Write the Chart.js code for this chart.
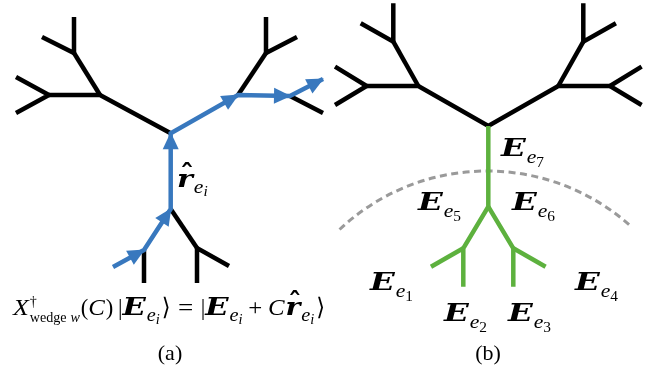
<!DOCTYPE html>
<html><head><meta charset="utf-8">
<script src="https://cdn.jsdelivr.net/npm/chart.js@4"></script>
<style>html,body{margin:0;padding:0;background:#fff}canvas{display:block}</style>
</head><body>
<canvas id="c" width="665" height="370"></canvas>
<script>
// ---- Panel (a): tree with the blue move path ----
const treeAX = [170.7,100,49,16,16,74,74,42,238,266,266,297,290,323,323,170.7,144,144,113,197,197,229];
const treeAY = [133.3,95,95,77,113,53,17,37,95,53,17,37,96,79,113,209,250,283,267,248,283,266];
const treeAPaths = [[3,2,4],[2,1,0],[7,5,6],[5,1],[8,9],[10,9,11],[12,14],[15,19],[20,19,21],[16,17]];
const movePath = [18,16,15,0,8,12,13];

// ---- Panel (b): tree with the green subtree ----
const treeBX = [488.3,418.3,366.7,335,335,393.3,393.3,360.7,558.3,583.3,583.3,615.9,609.9,641.6,641.6,488.3,463.3,463.3,431,513.3,513.3,545.6];
const treeBY = [126,86,86,66.7,105,41.7,3.3,23.3,86,41.7,3.3,23.3,86,66.7,105,206.7,248.3,286.7,266.7,248.3,286.7,266.7];
const treeBPaths = [[3,2,4],[2,1,0,8,12],[7,5,6],[5,1],[8,9],[10,9,11],[13,12,14]];
const subtreePaths = [[0,15,16,17],[15,19,20],[16,18],[19,21]];

// dashed cut: circle centre, radius, start/end angle (deg)
const cutArc = [487, 386, 215, -133.3, -47.8];

// edge labels of panel (b)
const edgeIds = ['7','5','6','1','2','3','4'];
const edgeLabelX = [501,418,512,370,444,508,575];
const edgeLabelY = [156,210,210,290,321,321,290];

const panelNames = ['(a)','(b)'];
const panelNameX = [170,488];

const BLACK = '#000000', BLUE = '#3878be', GREEN = '#5db13e', GREY = '#9a9a9a';

function pathData(xs, ys, idx) { return idx.map(i => ({x: xs[i], y: ys[i]})); }
function lineSet(points, color, width, order) {
  return {data: points, showLine: true, borderColor: color, borderWidth: width, pointRadius: 0,
          fill: false, tension: 0, borderCapStyle: 'butt', borderJoinStyle: 'miter', clip: false, order};
}

const datasets = [];
treeAPaths.forEach(p => datasets.push(lineSet(pathData(treeAX, treeAY, p), BLACK, 4.5, 3)));
datasets.push(lineSet(pathData(treeAX, treeAY, movePath), BLUE, 4.5, 1));
treeBPaths.forEach(p => datasets.push(lineSet(pathData(treeBX, treeBY, p), BLACK, 4.5, 3)));
subtreePaths.forEach(p => datasets.push(lineSet(pathData(treeBX, treeBY, p), GREEN, 4.5, 2)));

const SERIF = '"Liberation Serif", "DejaVu Serif", "DejaVu Sans"';
const BOLDI = 'italic bold 25px "DejaVu Serif"';
const fI = s => `italic ${s}px ${SERIF}`;
const fR = s => `${s}px ${SERIF}`;

// draw a sequence of text runs left to right
function runWidth(ctx, runs) {
  let w = 0;
  for (const r of runs) { ctx.font = r.f; if (!r.stay) w += ctx.measureText(r.t).width * (r.sx || 1) + (r.dx || 0); }
  return w;
}
function drawRuns(ctx, x, y, runs, k) {
  ctx.save();
  ctx.translate(x, y); ctx.scale(k || 1, 1);
  ctx.textAlign = 'left'; ctx.textBaseline = 'alphabetic'; ctx.fillStyle = '#000';
  let cx = 0;
  for (const r of runs) {
    ctx.font = r.f;
    const sx = r.sx || 1;
    const w = ctx.measureText(r.t).width * sx;
    const px = cx + (r.dx || 0);
    ctx.save(); ctx.translate(px, r.dy || 0); ctx.scale(sx, 1); ctx.fillText(r.t, 0, 0); ctx.restore();
    if (r.hat) {
      ctx.save(); ctx.font = `bold 28px "DejaVu Serif"`; ctx.textAlign = 'center';
      ctx.fillText('\u02C6', px + w / 2 + 2, (r.dy || 0) - 3); ctx.restore();
    }
    if (!r.stay) cx = px + w;
  }
  ctx.restore();
}
const boldE = () => ({t: 'E', f: BOLDI, sx: 1.3});
const subEI = () => [{t: 'e', f: fI(18), dy: 6, sx: 1.2, dx: 1}, {t: 'i', f: fI(14), dy: 9, sx: 1.1}];

const formulaRuns = [
  {t: 'X', f: fI(24), sx: 1.15},
  {t: '\u2020', f: fR(15), dy: -9, stay: true, dx: 1},
  {t: 'wedge', f: fR(15), dy: 7, dx: 1},
  {t: 'w', f: fI(15), dy: 7, dx: 4},
  {t: '(', f: fR(24), dx: 1},
  {t: 'C', f: fI(24), sx: 1.1},
  {t: ')', f: fR(24), dx: 1},
  {t: '|', f: fR(24), dx: 5},
  boldE(), ...subEI(),
  {t: '\u27E9', f: fR(24), dx: 2},
  {t: '=', f: fR(24), dx: 8, sx: 1.2},
  {t: '|', f: fR(24), dx: 8},
  boldE(), ...subEI(),
  {t: '+', f: fR(24), dx: 6, sx: 1.1},
  {t: 'C', f: fI(24), sx: 1.1, dx: 6},
  {t: 'r', f: BOLDI, sx: 1.2, hat: true, dx: 1},
  ...subEI(),
  {t: '\u27E9', f: fR(24), dx: 2}
];

const overlay = {
  id: 'overlay',
  beforeDatasetsDraw(chart) {
    const {ctx, scales: {x, y}} = chart;
    const cx = x.getPixelForValue(cutArc[0]), cy = y.getPixelForValue(cutArc[1]);
    const r = x.getPixelForValue(cutArc[0] + cutArc[2]) - cx;
    ctx.save();
    ctx.strokeStyle = GREY; ctx.lineWidth = 3; ctx.setLineDash([7, 4.5]);
    ctx.beginPath(); ctx.arc(cx, cy, r, cutArc[3] * Math.PI / 180, cutArc[4] * Math.PI / 180, false); ctx.stroke();
    ctx.restore();
  },
  afterDatasetsDraw(chart) {
    const {ctx, scales: {x, y}} = chart;
    // arrow heads at the end of each step of the move path
    ctx.save(); ctx.fillStyle = BLUE;
    for (let i = 1; i < movePath.length; i++) {
      const a = movePath[i - 1], b = movePath[i];
      const px = x.getPixelForValue(treeAX[a]), py = y.getPixelForValue(treeAY[a]);
      const qx = x.getPixelForValue(treeAX[b]), qy = y.getPixelForValue(treeAY[b]);
      const d = Math.hypot(qx - px, qy - py), ux = (qx - px) / d, uy = (qy - py) / d;
      const L = 16, W = 8;
      const bx = qx - ux * L, by = qy - uy * L;
      ctx.beginPath(); ctx.moveTo(qx + ux, qy + uy);
      ctx.lineTo(bx - uy * W, by + ux * W); ctx.lineTo(bx + uy * W, by - ux * W); ctx.closePath(); ctx.fill();
    }
    ctx.restore();

    // r-hat label beside the vertical step
    drawRuns(ctx, x.getPixelForValue(177), y.getPixelForValue(187), [
      {t: 'r', f: BOLDI, sx: 1.2, hat: true}, ...subEI()
    ]);

    // edge labels E_{e_n}
    edgeIds.forEach((id, i) => {
      drawRuns(ctx, x.getPixelForValue(edgeLabelX[i]), y.getPixelForValue(edgeLabelY[i]), [
        boldE(), {t: 'e', f: fI(18), dy: 7, sx: 1.2, dx: 1}, {t: id, f: fR(14), dy: 11, sx: 1.1}
      ]);
    });

    // formula under panel (a), stretched over its width
    const nat = runWidth(ctx, formulaRuns);
    drawRuns(ctx, x.getPixelForValue(13), y.getPixelForValue(315), formulaRuns, 312 / nat);

    // panel captions
    ctx.save(); ctx.fillStyle = '#000'; ctx.textAlign = 'center'; ctx.font = fR(22);
    panelNames.forEach((t, i) => ctx.fillText(t, x.getPixelForValue(panelNameX[i]), y.getPixelForValue(360)));
    ctx.restore();
  }
};

new Chart(document.getElementById('c'), {
  type: 'scatter',
  data: {datasets},
  options: {
    responsive: false, animation: false, events: [],
    layout: {padding: 0},
    plugins: {legend: {display: false}, tooltip: {enabled: false}},
    scales: {
      x: {type: 'linear', min: 0, max: 665, display: false},
      y: {type: 'linear', min: 0, max: 370, reverse: true, display: false}
    }
  },
  plugins: [overlay]
});
</script>
</body></html>
